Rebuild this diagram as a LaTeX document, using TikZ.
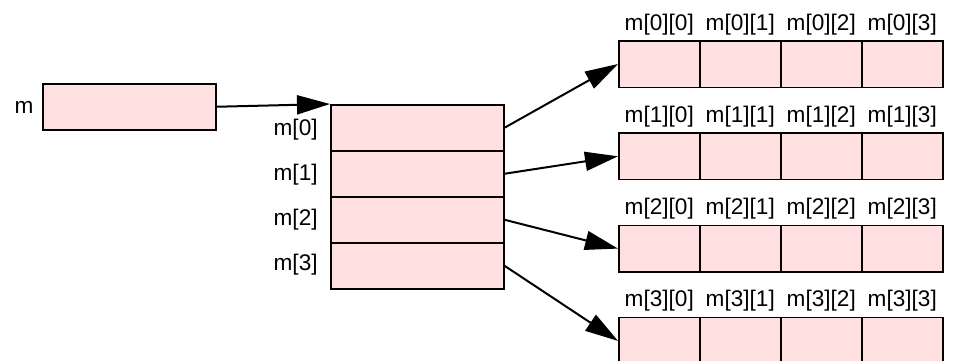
\documentclass[tikz,border=0pt]{standalone}
\usepackage{fontspec}
\setmainfont{Liberation Sans}
\usetikzlibrary{arrows.meta}

\definecolor{cellpink}{RGB}{255,224,224}

\begin{document}
\begin{tikzpicture}[x=0.5pt, y=-0.5pt,
		cell/.style={draw, fill=cellpink, line width=0.75pt, inner sep=0pt, anchor=north west},
		lbl/.style={font=\fontsize{11.3}{13}\selectfont, inner sep=0pt},
		ptr/.style={-{Triangle[length=16.5pt, width=9.5pt]}, line width=1pt}]
				% Рамка рисунка
				\useasboundingbox (0,0) rectangle (958,360);
				
				% Указатель m
				\node[cell, minimum width=86.5pt, minimum height=23pt] (m) at (42,83) {};
				\node[lbl] (mlabel) at (24,107) {m};
				
				% Массив указателей на строки
				\foreach \i in {0,...,3} {
					\node[cell, minimum width=86.5pt, minimum height=23pt] (r\i) at (330,{104+46*\i}) {};
					\node[lbl, anchor=east] (rlabel\i) at (318,{130+45*\i}) {m[\i]};
				}
				
				% Строки матрицы с подписями элементов
				\foreach \i in {0,...,3} {
					\foreach \j in {0,...,3} {
						\node[cell, minimum width=40.5pt, minimum height=23.25pt] (c\i\j) at ({618+81*\j},{40+92.3*\i}) {};
						\node[lbl, anchor=base, yshift=5pt] (clabel\i\j) at (c\i\j.north) {m[\i][\j]};
					}
				}
				
				% Стрелки
				\draw[ptr] (m.east) -- (r0.north west);
				\foreach \i in {0,...,3} {
					\draw[ptr] (r\i.east) -- (c\i0.west);
				}
			\end{tikzpicture}
\end{document}
